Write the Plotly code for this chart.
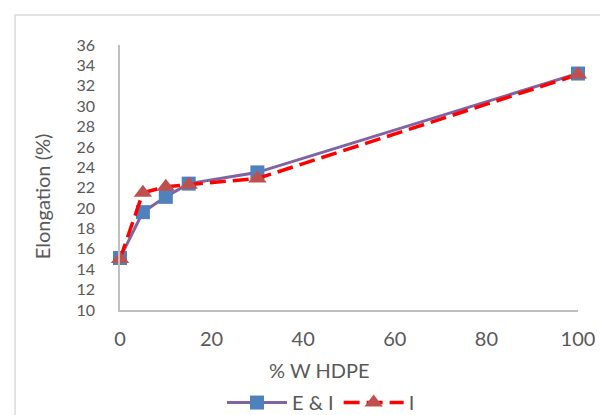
import plotly.graph_objects as go

hdpe = [0, 5, 10, 15, 30, 100]
elong_ei = [15.1, 19.6, 21.1, 22.4, 23.5, 33.2]
elong_i = [15.0, 21.5, 22.1, 22.3, 22.9, 33.1]
y_ticks = list(range(10, 37, 2))
x_ticks = list(range(0, 101, 20))

font_fam = "Lato, 'Open Sans', sans-serif"
tick_col = "#595959"

fig = go.Figure()
fig.add_trace(go.Scatter(
    x=hdpe, y=elong_ei, name="E & I", mode="lines+markers",
    line=dict(color="#8064A2", width=3),
    marker=dict(symbol="square", size=14, color="#4F81BD"),
    cliponaxis=False))
fig.add_trace(go.Scatter(
    x=hdpe, y=elong_i, name="I", mode="lines+markers",
    line=dict(color="#FF0000", width=3.5, dash="16px,7px"),
    marker=dict(symbol="triangle-up", size=16, color="#C0504D"),
    cliponaxis=False))

fig.update_layout(
    width=600, height=415,
    margin=dict(l=120, r=22, t=45, b=105, autoexpand=False),
    paper_bgcolor="white", plot_bgcolor="white",
    font=dict(family=font_fam, size=20, color=tick_col),
    showlegend=True,
    legend=dict(orientation="h", xref="container", yref="container",
                x=0.535, xanchor="center", y=0.03, yanchor="middle",
                font=dict(size=20, color=tick_col), itemwidth=60, bgcolor="rgba(0,0,0,0)"),
    shapes=[dict(type="rect", xref="paper", yref="paper", x0=-0.229, x1=1.2, y0=-0.6, y1=1.113,
                 line=dict(color="#D9D9D9", width=1.5), layer="below")],
    annotations=[
        dict(text="% W HDPE", xref="paper", yref="paper", x=0.435, y=-0.225, showarrow=False,
             xanchor="center", yanchor="middle", font=dict(size=20, color=tick_col)),
        dict(text="Elongation (%)", xref="paper", yref="paper", x=-0.17, y=0.43, showarrow=False,
             textangle=-90, xanchor="center", yanchor="middle", font=dict(size=20, color=tick_col)),
    ],
)
fig.update_xaxes(range=[0, 100], tickvals=x_ticks, showgrid=False, zeroline=False,
                 showline=True, linecolor="#BFBFBF", linewidth=1.5, ticks="", ticklabelstandoff=10,
                 automargin=False)
fig.update_yaxes(range=[10, 36], tickvals=y_ticks, showgrid=False, zeroline=False,
                 showline=True, linecolor="#BFBFBF", linewidth=1.5, ticks="", ticklabelstandoff=20,
                 tickfont=dict(size=16), automargin=False)

fig.write_html("out.html")
